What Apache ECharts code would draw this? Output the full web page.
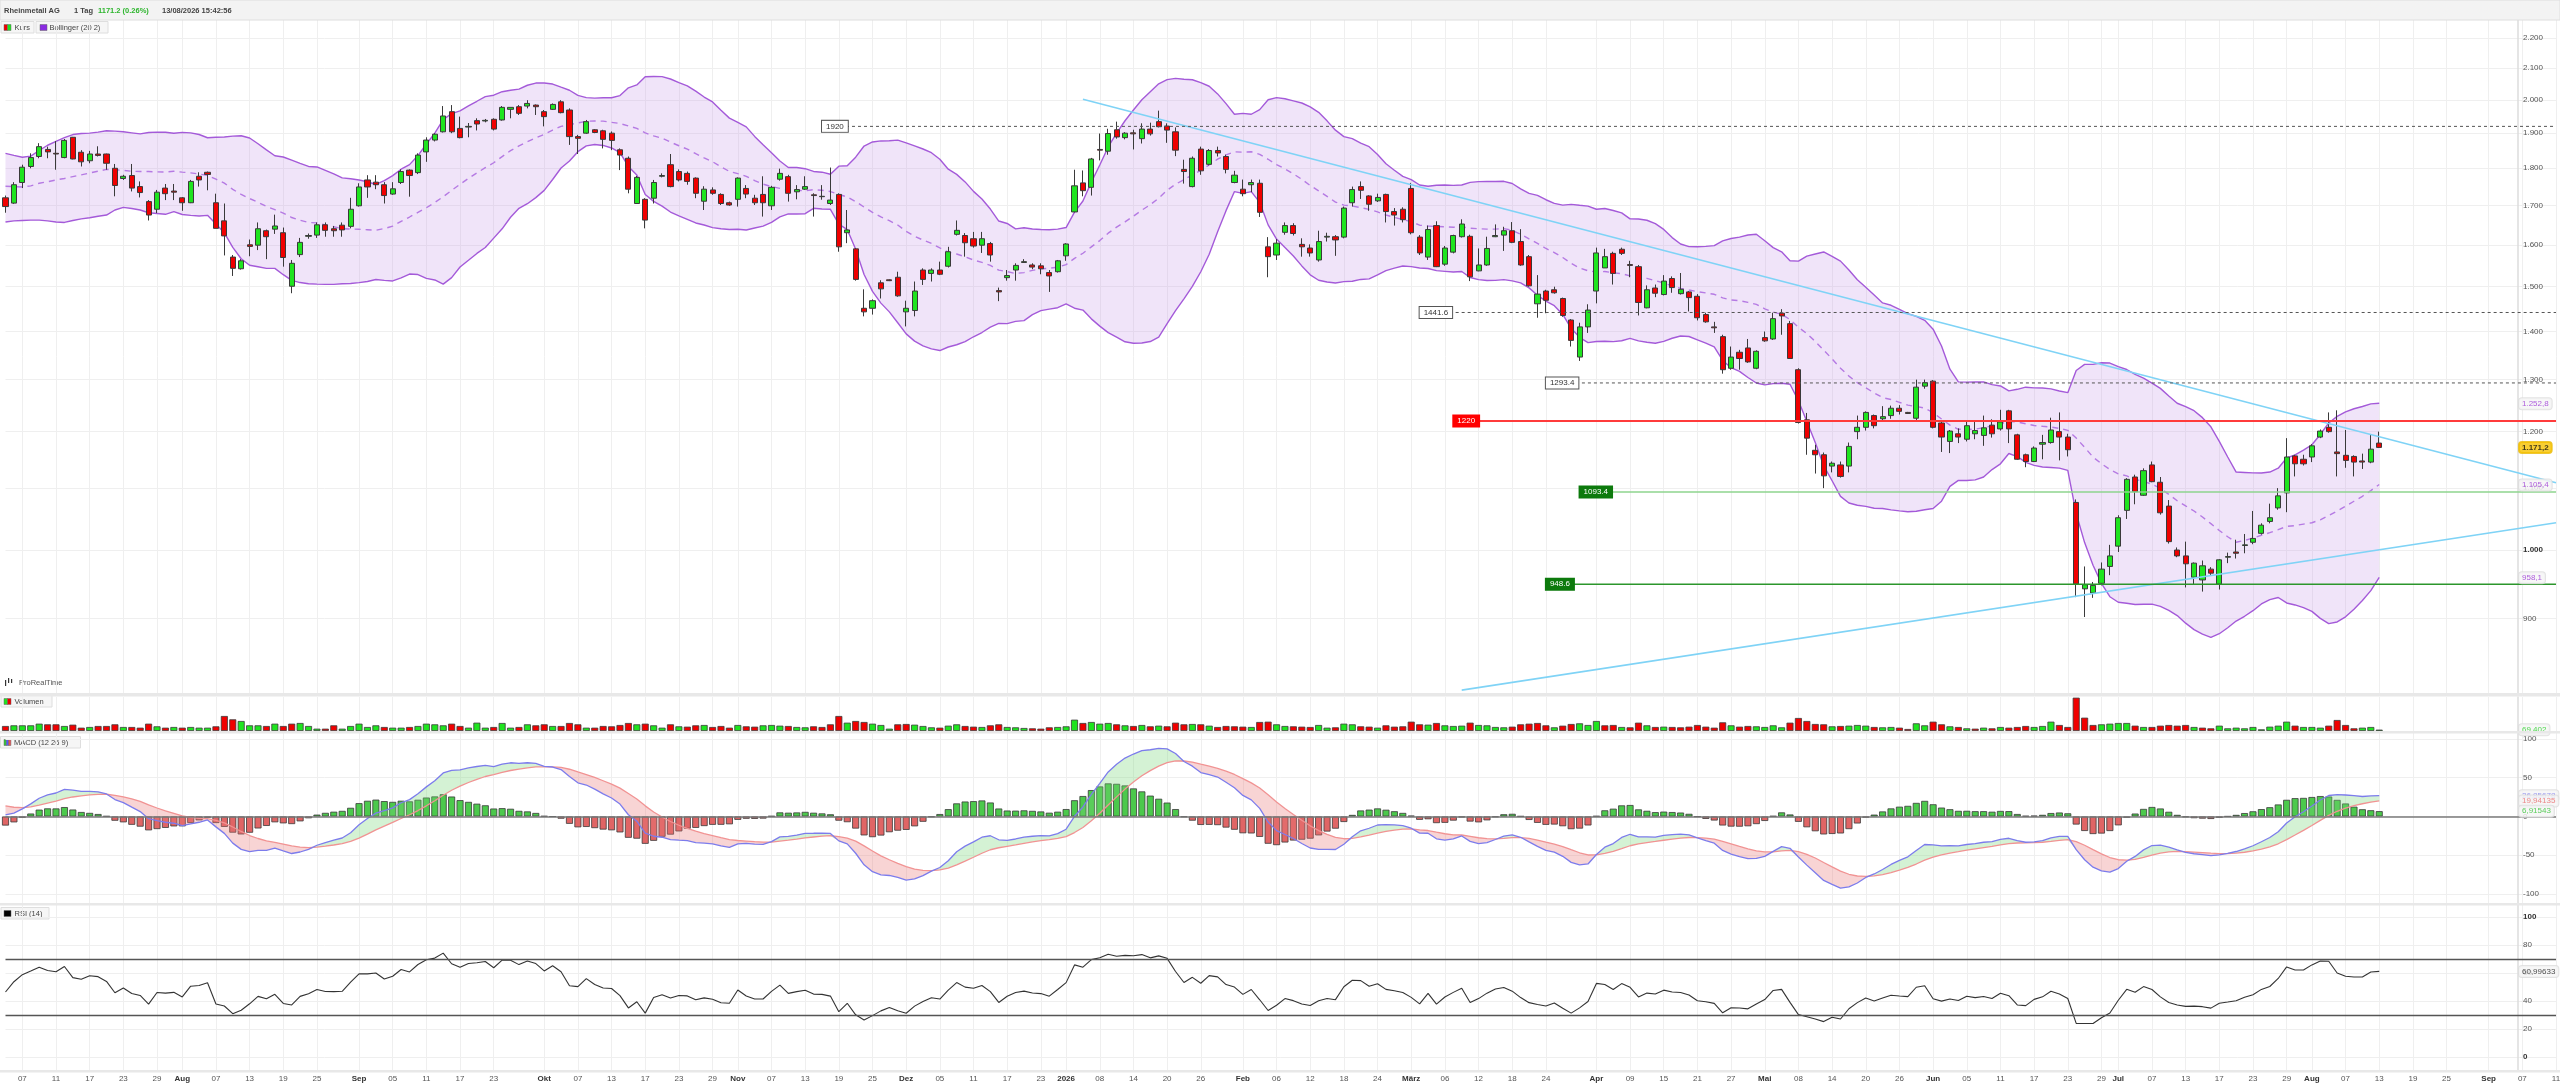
<!DOCTYPE html>
<html><head><meta charset="utf-8">
<script src="https://cdn.jsdelivr.net/npm/echarts@6/dist/echarts.min.js"></script>
<style>html,body{margin:0;padding:0;background:#fff}#c{width:2560px;height:1086px}</style>
</head><body><div id="c"></div>
<script>
// ---------- DATA ----------
const holidays = ['2025-12-24','2025-12-25','2025-12-26','2025-12-31','2026-01-01','2026-04-03','2026-04-06','2026-05-01'];
const firstDay = '2025-07-03';
const lastAxisDay = '2026-09-11';

const opens = [1720,1706,1761,1805,1833,1853,1842,1830,1888,1845,
1821,1840,1840,1800,1772,1780,1750,1710,1690,1746,
1738,1720,1707,1778,1789,1707,1660,1570,1542,1600,
1599,1635,1639,1630,1501,1576,1621,1624,1650,1640,
1649,1646,1699,1768,1762,1755,1730,1761,1795,1788,
1846,1880,1904,1964,1914,1918,1937,1936,1941,1939,
1971,1979,1981,1984,1964,1971,1994,1969,1890,1900,
1910,1907,1900,1852,1828,1705,1716,1719,1778,1810,
1791,1786,1773,1711,1741,1729,1707,1716,1745,1719,
1729,1699,1770,1777,1736,1743,1728,1723,1705,1729,
1630,1590,1451,1451,1509,1516,1522,1443,1446,1539,
1531,1539,1548,1626,1623,1615,1599,1603,1491,1521,
1539,1557,1551,1549,1533,1535,1573,1683,1760,1748,
1853,1848,1910,1887,1901,1884,1912,1934,1921,1904,
1797,1750,1854,1811,1850,1833,1761,1743,1755,1759,
1595,1575,1631,1648,1601,1592,1563,1619,1620,1619,
1707,1750,1725,1712,1729,1684,1690,1745,1619,1570,
1648,1553,1582,1620,1621,1537,1551,1620,1624,1635,
1608,1571,1461,1490,1493,1473,1425,1346,1410,1490,
1544,1579,1589,1552,1547,1452,1497,1482,1519,1484,
1488,1478,1437,1410,1389,1323,1356,1365,1323,1387,
1384,1440,1417,1320,1222,1166,1158,1138,1140,1138,
1200,1208,1230,1224,1230,1244,1236,1225,1287,1297,
1216,1182,1196,1186,1196,1193,1212,1205,1239,1194,
1158,1146,1177,1180,1200,1190,1076,942,936,950,
975,1006,1063,1119,1088,1140,1110,1070,1000,991,
959,955,971,949,989,997,1007,1012,1026,1045,
1067,1092,1156,1150,1154,1190,1208,1163,1157,1155,
1147,1145,1179];

const closes = [1697,1755,1803,1830,1861,1846,1840,1879,1826,1818,
1840,1836,1814,1753,1778,1746,1734,1675,1735,1731,
1735,1707,1764,1768,1783,1641,1622,1543,1561,1596,
1640,1620,1647,1569,1555,1606,1623,1650,1636,1635,
1637,1690,1749,1749,1755,1726,1744,1791,1780,1837,
1880,1897,1951,1904,1887,1920,1927,1938,1912,1977,
1977,1959,1989,1979,1949,1986,1961,1890,1885,1934,
1902,1882,1879,1837,1743,1775,1662,1761,1780,1750,
1768,1764,1732,1743,1732,1705,1701,1773,1730,1707,
1707,1748,1786,1732,1742,1750,1726,1724,1714,1595,
1637,1517,1443,1468,1495,1514,1479,1451,1490,1517,
1539,1529,1583,1636,1605,1597,1615,1575,1488,1526,
1550,1559,1546,1542,1525,1561,1602,1752,1739,1826,
1851,1899,1889,1900,1898,1912,1898,1919,1909,1851,
1791,1828,1793,1850,1843,1797,1781,1731,1761,1682,
1571,1604,1648,1628,1595,1580,1608,1621,1612,1693,
1742,1740,1703,1721,1684,1675,1663,1630,1580,1638,
1547,1592,1623,1652,1523,1551,1591,1623,1635,1606,
1551,1502,1483,1469,1486,1435,1381,1410,1447,1580,
1571,1531,1579,1550,1464,1493,1485,1513,1498,1494,
1475,1430,1421,1408,1320,1346,1343,1336,1358,1380,
1428,1434,1343,1217,1188,1158,1121,1143,1120,1173,
1208,1236,1211,1228,1244,1238,1234,1285,1294,1208,
1190,1201,1190,1211,1202,1207,1196,1218,1205,1150,
1146,1170,1180,1203,1190,1167,949,948,947,971,
991,1051,1115,1094,1130,1111,1059,1013,991,979,
980,976,965,985,990,995,1008,1018,1039,1051,
1087,1154,1142,1142,1174,1201,1200,1160,1148,1145,
1145,1168,1171.2];

const highs = [1726,1762,1810,1842,1871,1861,1877,1883,1889,1851,
1849,1862,1841,1812,1782,1812,1764,1714,1741,1757,
1757,1722,1768,1789,1791,1731,1705,1575,1565,1613,
1656,1638,1676,1643,1563,1617,1628,1656,1656,1647,
1656,1720,1759,1781,1781,1762,1762,1797,1797,1842,
1888,1900,1981,1984,1949,1930,1944,1942,1944,1981,
1977,1984,1999,1986,1969,1989,1999,1974,1895,1939,
1912,1910,1905,1856,1833,1779,1719,1768,1786,1840,
1797,1791,1775,1751,1748,1732,1710,1775,1754,1728,
1778,1752,1799,1782,1754,1778,1732,1754,1802,1732,
1688,1592,1494,1471,1515,1517,1535,1468,1512,1543,
1543,1559,1595,1661,1629,1632,1632,1607,1498,1539,
1555,1565,1555,1555,1539,1563,1604,1796,1794,1829,
1899,1913,1934,1903,1910,1929,1931,1967,1929,1917,
1824,1833,1861,1854,1861,1838,1793,1769,1769,1769,
1619,1614,1656,1654,1616,1601,1635,1630,1624,1697,
1750,1764,1727,1731,1731,1693,1695,1760,1624,1648,
1659,1597,1625,1664,1625,1591,1620,1651,1645,1657,
1639,1575,1527,1493,1500,1475,1427,1419,1460,1593,
1590,1583,1593,1561,1551,1503,1505,1527,1524,1532,
1490,1483,1441,1421,1393,1368,1361,1384,1360,1400,
1441,1449,1423,1323,1235,1176,1162,1146,1146,1180,
1230,1238,1232,1248,1249,1250,1237,1300,1300,1299,
1218,1203,1206,1221,1221,1230,1223,1241,1241,1196,
1160,1173,1194,1226,1236,1196,1081,975,952,981,
1008,1055,1117,1123,1134,1146,1119,1080,1004,1013,
981,984,974,986,996,1016,1025,1062,1042,1074,
1100,1188,1158,1158,1177,1204,1236,1240,1203,1157,
1160,1194,1200];

const lows = [1681,1704,1746,1800,1828,1828,1796,1828,1825,1805,
1814,1833,1796,1724,1768,1737,1721,1661,1680,1714,
1714,1686,1706,1750,1740,1641,1574,1525,1540,1572,
1587,1565,1627,1547,1485,1570,1615,1617,1620,1620,
1620,1641,1697,1720,1743,1705,1728,1757,1723,1784,
1818,1876,1902,1900,1885,1888,1908,1932,1908,1937,
1944,1954,1974,1954,1920,1969,1959,1866,1840,1898,
1900,1856,1851,1795,1732,1704,1641,1705,1775,1748,
1764,1755,1719,1688,1728,1701,1699,1697,1719,1701,
1671,1688,1766,1710,1716,1741,1671,1715,1701,1583,
1604,1514,1433,1437,1473,1513,1477,1411,1433,1504,
1512,1527,1545,1623,1571,1593,1580,1559,1467,1514,
1514,1557,1541,1529,1488,1533,1561,1682,1724,1726,
1822,1838,1884,1882,1853,1870,1893,1917,1872,1834,
1758,1748,1782,1808,1833,1786,1759,1724,1735,1670,
1522,1563,1625,1623,1571,1571,1559,1608,1573,1616,
1697,1717,1686,1709,1656,1648,1656,1626,1575,1563,
1546,1549,1579,1618,1513,1536,1549,1619,1585,1604,
1549,1500,1430,1440,1484,1432,1368,1338,1397,1462,
1544,1505,1575,1522,1435,1451,1476,1480,1486,1482,
1444,1424,1419,1397,1312,1320,1320,1334,1321,1378,
1382,1393,1342,1215,1158,1125,1100,1127,1118,1127,
1186,1202,1206,1219,1224,1232,1233,1219,1282,1206,
1163,1161,1179,1182,1186,1174,1189,1202,1179,1149,
1136,1145,1150,1178,1148,1155,930,902,929,947,
962,997,1049,1073,1087,1110,1056,1010,989,944,
948,938,962,941,980,987,995,1009,1024,1042,
1064,1060,1120,1139,1145,1188,1198,1120,1135,1120,
1133,1143,1170];

// volume in thousands of shares
const volumes = [255,289,289,289,374,340,340,255,323,170,
204,255,255,340,204,204,170,374,238,170,
204,170,204,170,170,238,765,595,510,289,
289,255,374,255,374,408,255,119,119,289,
119,255,374,204,289,204,170,170,204,255,
374,340,289,374,255,170,425,170,204,408,
170,204,340,289,340,255,255,408,340,170,
170,255,238,306,408,340,374,289,170,340,
238,221,289,306,204,255,170,306,238,221,
289,306,272,255,204,187,238,204,340,765,
425,510,459,374,306,119,340,357,323,255,
187,170,272,340,255,221,204,289,340,204,
187,153,136,119,187,204,238,578,408,459,
374,408,340,289,255,306,238,272,238,425,
340,357,340,272,204,255,238,221,204,459,
476,340,255,238,221,204,306,170,187,374,
340,238,221,170,289,221,238,476,340,323,
408,289,255,272,425,306,289,204,187,221,
340,374,408,289,187,272,357,391,306,510,
289,306,204,187,425,289,204,221,204,187,
221,306,221,170,442,289,221,255,238,204,
289,187,425,663,510,357,340,238,255,272,
306,272,204,187,204,170,102,391,289,476,
340,238,204,136,119,170,136,204,170,204,
255,204,255,476,306,204,1700,680,306,340,
374,408,408,272,204,204,272,306,272,306,
204,170,136,272,136,170,136,204,85,221,
272,476,272,204,204,170,272,561,306,136,
170,204,69.402];

// Bollinger (20 2) values read for the first 19 sessions (before a full window exists)
const bbUpperHead = [1842,1836,1831,1834,1850,1865,1876,1887,1896,1899,1900,1903,1907,1906,1904,1901,1898,1902,1903];
const bbMidHead   = [1751,1750,1749,1752,1759,1763,1768,1772,1777,1782,1787,1792,1797,1796,1794,1792,1791,1791,1790];
const bbLowerHead = [1657,1660,1661,1662,1662,1660,1657,1656,1661,1665,1668,1672,1675,1688,1695,1692,1688,1681,1679];

// indicator state at the first visible session
const macdStart = {ema12: 1725, ema26: 1722.9, signal: 13.8};
const rsiStart = {avgGain: 13, avgLoss: 15};

// horizontal levels and trend lines
const levelValues = [1920, 1441.6, 1293.4, 1220, 1093.4, 948.6];
const levelLabels = ['1920', '1441.6', '1293.4', '1220', '1093.4', '948.6'];
const levelStartDates = ['2025-11-17', '2026-03-03', '2026-03-24', '2026-03-09', '2026-03-30', '2026-03-24'];
const downTrendDates = ['2026-01-06', '2026-09-11'];
const downTrendPrices = [2001.6, 1109];
const upTrendDates = ['2026-03-10', '2026-09-11'];
const upTrendPrices = [806, 1043];

// last-value tags
const priceTagValues = [1252.8, 1171.2, 1105.4, 958.1];
const priceTagTexts = ['1.252,8', '1.171,2', '1.105,4', '958,1'];
const volumeTagText = '69.402';
const macdTagValues = [26.85678, 19.94135, 6.91543];
const macdTagTexts = ['26,85678', '19,94135', '6,91543'];
const rsiTagValue = 60.99633;
const rsiTagText = '60,99633';

// axis ticks
const priceTicks = [900,1000,1100,1200,1300,1400,1500,1600,1700,1800,1900,2000,2100,2200];
const macdTicks = [-100,-50,0,50,100];
const rsiTicks = [0,20,40,60,80,100];
const rsiBands = [70, 30];
const xTickDates = ['2025-07-07','2025-07-11','2025-07-17','2025-07-23','2025-07-29','2025-08-01','2025-08-07','2025-08-13','2025-08-19','2025-08-25','2025-09-01','2025-09-05','2025-09-11','2025-09-17','2025-09-23','2025-10-01','2025-10-07','2025-10-13','2025-10-17','2025-10-23','2025-10-29','2025-11-03','2025-11-07','2025-11-13','2025-11-19','2025-11-25','2025-12-01','2025-12-05','2025-12-11','2025-12-17','2025-12-23','2026-01-02','2026-01-08','2026-01-14','2026-01-20','2026-01-26','2026-02-02','2026-02-06','2026-02-12','2026-02-18','2026-02-24','2026-03-02','2026-03-06','2026-03-12','2026-03-18','2026-03-24','2026-04-01','2026-04-09','2026-04-15','2026-04-21','2026-04-27','2026-05-04','2026-05-08','2026-05-14','2026-05-20','2026-05-26','2026-06-01','2026-06-05','2026-06-11','2026-06-17','2026-06-23','2026-06-29','2026-07-01','2026-07-07','2026-07-13','2026-07-17','2026-07-23','2026-07-29','2026-08-03','2026-08-07','2026-08-13','2026-08-19','2026-08-25','2026-09-01','2026-09-07','2026-09-11'];
const xTickTexts = ['07','11','17','23','29','Aug','07','13','19','25','Sep','05','11','17','23','Okt','07','13','17','23','29','Nov','07','13','19','25','Dez','05','11','17','23','2026','08','14','20','26','Feb','06','12','18','24','März','06','12','18','24','Apr','09','15','21','27','Mai','08','14','20','26','Jun','05','11','17','23','29','Jul','07','13','17','23','29','Aug','07','13','19','25','Sep','07','11'];

// ---------- BUILD ----------
const FONT = 'Liberation Sans, Arial, Helvetica, sans-serif';
function buildDays() {
  const out = [], hs = new Set(holidays);
  let t = Date.parse(firstDay + 'T00:00:00Z');
  const end = Date.parse(lastAxisDay + 'T00:00:00Z');
  while (t <= end) {
    const d = new Date(t), wd = d.getUTCDay(), s = d.toISOString().slice(0, 10);
    if (wd !== 0 && wd !== 6 && !hs.has(s)) out.push(s);
    t += 86400000;
  }
  return out;
}
const days = buildDays();
const lastDay = days[days.length - 1];
const N = closes.length;
const L = Math.log;

// Bollinger
const bbU = [], bbM = [], bbLo = [];
for (let i = 0; i < N; i++) {
  if (i < bbMidHead.length) { bbU.push(bbUpperHead[i]); bbM.push(bbMidHead[i]); bbLo.push(bbLowerHead[i]); continue; }
  const w = closes.slice(i - 19, i + 1);
  const m = w.reduce((a, b) => a + b, 0) / 20;
  const sd = Math.sqrt(w.reduce((a, b) => a + (b - m) * (b - m), 0) / 20);
  bbU.push(m + 2 * sd); bbM.push(m); bbLo.push(m - 2 * sd);
}
// MACD
const macd = [], sig = [], hist = [];
{
  let e12 = macdStart.ema12, e26 = macdStart.ema26, s = macdStart.signal;
  macd.push(e12 - e26); sig.push(s); hist.push(e12 - e26 - s);
  for (let i = 1; i < N; i++) {
    e12 += (closes[i] - e12) * 2 / 13;
    e26 += (closes[i] - e26) * 2 / 27;
    const m = e12 - e26;
    s += (m - s) * 2 / 10;
    macd.push(m); sig.push(s); hist.push(m - s);
  }
}
// RSI
const rsi = [];
{
  let ag = rsiStart.avgGain, al = rsiStart.avgLoss;
  rsi.push(100 - 100 / (1 + ag / al));
  for (let i = 1; i < N; i++) {
    const d = closes[i] - closes[i - 1];
    ag = (ag * 13 + Math.max(d, 0)) / 14;
    al = (al * 13 + Math.max(-d, 0)) / 14;
    rsi.push(100 - 100 / (1 + ag / al));
  }
}

const tickMap = {};
xTickDates.forEach((d, i) => tickMap[d] = xTickTexts[i]);
const isTick = (i, v) => tickMap[v] !== undefined;

function fmtPrice(p) {
  p = Math.round(p);
  if (p >= 1000) return Math.floor(p / 1000) + '.' + String(p % 1000).padStart(3, '0');
  return String(p);
}

const GREEN = '#1fe41f', RED = '#f00000', EDGE = '#3a3a3a';

// grids
const grids = [
  {left: 5.5, right: 4, top: 20, height: 673},
  {left: 5.5, right: 4, top: 697, height: 34},
  {left: 5.5, right: 4, top: 733, height: 170},
  {left: 5.5, right: 4, top: 905, height: 165}
].map(g => Object.assign(g, {containLabel: false, outerBoundsMode: 'none'}));

function xAxisFor(idx, showLabels) {
  return {
    type: 'category', gridIndex: idx, data: days, boundaryGap: false,
    axisLine: {show: false}, axisTick: {show: false},
    axisLabel: {
      show: showLabels, interval: isTick, margin: 5, fontSize: 8, color: '#555', fontFamily: FONT,
      formatter: v => { const t = tickMap[v]; if (t === undefined) return ''; return /^\d\d$/.test(t) ? t : '{m|' + t + '}'; },
      rich: {m: {fontWeight: 'bold', fontSize: 8, color: '#333', fontFamily: FONT}}
    },
    splitLine: {show: true, interval: isTick, lineStyle: {color: '#efefef', width: 1}}
  };
}

const yBase = {
  position: 'right', offset: -38, scale: false,
  axisLine: {show: true, lineStyle: {color: '#dcdcdc', width: 1.5}},
  axisTick: {show: false},
  splitLine: {show: true, lineStyle: {color: '#efefef', width: 1}}
};
const lab = {margin: 5, fontSize: 8, color: '#555', fontFamily: FONT};

const yAxes = [
  Object.assign({}, yBase, {
    type: 'value', gridIndex: 0, min: L(802.4), max: L(2261.7),
    axisTick: {show: false, customValues: priceTicks.map(L)},
    axisLabel: Object.assign({}, lab, {
      customValues: priceTicks.map(L),
      formatter: v => { const p = Math.round(Math.exp(v)); const s = fmtPrice(p); return p === 1000 ? '{b|' + s + '}' : s; },
      rich: {b: {fontWeight: 'bold', fontSize: 8, color: '#333', fontFamily: FONT}}
    })
  }),
  Object.assign({}, yBase, {
    type: 'value', gridIndex: 1, min: 0, max: 1734,
    axisLabel: {show: false}, splitLine: {show: false}
  }),
  Object.assign({}, yBase, {
    type: 'value', gridIndex: 2, min: -111.6, max: 107.7,
    axisTick: {show: false, customValues: macdTicks},
    axisLabel: Object.assign({}, lab, {customValues: macdTicks, formatter: v => String(v)})
  }),
  Object.assign({}, yBase, {
    type: 'value', gridIndex: 3, min: -9.3, max: 108.6,
    axisTick: {show: false, customValues: rsiTicks},
    axisLabel: Object.assign({}, lab, {
      customValues: rsiTicks,
      formatter: v => (v === 100 || v === 0) ? '{b|' + v + '}' : String(v),
      rich: {b: {fontWeight: 'bold', fontSize: 8, color: '#333', fontFamily: FONT}}
    })
  })
];

const series = [];
const none = {symbol: 'none', silent: true};

// Bollinger fill
series.push(Object.assign({type: 'line', xAxisIndex: 0, yAxisIndex: 0, stack: 'bb', stackStrategy: 'all',
  data: bbLo.map(L), lineStyle: {opacity: 0}, z: 1}, none));
series.push(Object.assign({type: 'line', xAxisIndex: 0, yAxisIndex: 0, stack: 'bb', stackStrategy: 'all',
  data: bbU.map((u, i) => L(u) - L(bbLo[i])), lineStyle: {opacity: 0},
  areaStyle: {color: 'rgba(196,150,232,0.26)', opacity: 1}, z: 1}, none));
series.push(Object.assign({type: 'line', xAxisIndex: 0, yAxisIndex: 0, data: bbU.map(L),
  lineStyle: {color: '#a45ad9', width: 1.4}, z: 2}, none));
series.push(Object.assign({type: 'line', xAxisIndex: 0, yAxisIndex: 0, data: bbLo.map(L),
  lineStyle: {color: '#a45ad9', width: 1.4}, z: 2}, none));
series.push(Object.assign({type: 'line', xAxisIndex: 0, yAxisIndex: 0, data: bbM.map(L),
  lineStyle: {color: '#b57ae3', width: 1.4, type: [6, 5]}, z: 2}, none));

// candles
series.push({
  type: 'candlestick', xAxisIndex: 0, yAxisIndex: 0, barWidth: 5.6, silent: true, z: 3,
  data: closes.map((c, i) => [L(opens[i]), L(c), L(lows[i]), L(highs[i])]),
  itemStyle: {color: GREEN, color0: RED, borderColor: EDGE, borderColor0: EDGE, borderWidth: 1}
});

// level lines
const levelStyles = [
  {line: {color: '#555', width: 1, type: [3, 3]}, bg: '#fff', fg: '#333', border: '#555'},
  {line: {color: '#555', width: 1, type: [3, 3]}, bg: '#fff', fg: '#333', border: '#555'},
  {line: {color: '#555', width: 1, type: [3, 3]}, bg: '#fff', fg: '#333', border: '#555'},
  {line: {color: '#ff3b3b', width: 2, type: 'solid'}, bg: '#ff0000', fg: '#fff', border: '#ff0000'},
  {line: {color: '#8ed58e', width: 1.5, type: 'solid'}, bg: '#0d7a0d', fg: '#fff', border: '#0d7a0d'},
  {line: {color: '#2c962c', width: 1.6, type: 'solid'}, bg: '#0d7a0d', fg: '#fff', border: '#0d7a0d'}
];
levelValues.forEach((v, k) => {
  const st = levelStyles[k];
  series.push({
    type: 'line', xAxisIndex: 0, yAxisIndex: 0, silent: true, z: 6,
    symbol: 'circle', symbolSize: 0, showSymbol: true,
    lineStyle: st.line,
    data: [
      {value: [levelStartDates[k], L(v)], label: {show: true, position: 'right', distance: 0,
        formatter: levelLabels[k], fontSize: 8, fontFamily: FONT, color: st.fg,
        backgroundColor: st.bg, borderColor: st.border, borderWidth: 1, padding: [2, 4, 1, 4]}},
      [lastDay, L(v)]
    ]
  });
});

// trend lines
[[downTrendDates, downTrendPrices], [upTrendDates, upTrendPrices]].forEach(([ds, ps]) => {
  series.push(Object.assign({type: 'line', xAxisIndex: 0, yAxisIndex: 0, z: 5,
    lineStyle: {color: '#7fd3f6', width: 1.6},
    data: ds.map((d, i) => [d, L(ps[i])])}, none));
});

// tag helper
function tags(gridIdx, vals, texts, styles, transform) {
  series.push({
    type: 'scatter', xAxisIndex: gridIdx, yAxisIndex: gridIdx, symbolSize: 0, silent: true, z: 10,
    data: vals.map((v, i) => ({
      value: [lastDay, transform ? transform(v) : v],
      label: Object.assign({show: true, position: [-37, 0], align: 'left', verticalAlign: 'middle',
        formatter: texts[i], fontSize: 8, fontFamily: FONT, padding: [2, 3, 1, 3],
        borderRadius: 3, borderWidth: 1}, styles[i])
    }))
  });
}
const purpleTag = {color: '#9b34d6', backgroundColor: '#f5f5f5', borderColor: '#dcdcdc'};
tags(0, priceTagValues, priceTagTexts,
  [purpleTag, {color: '#111', fontWeight: 'bold', backgroundColor: '#f6c200', borderColor: '#e8b800'}, purpleTag, purpleTag], L);

// volume
series.push({
  type: 'bar', xAxisIndex: 1, yAxisIndex: 1, barWidth: 7, silent: true,
  data: volumes.map((v, i) => ({value: v, itemStyle: {
    color: (i === 0 ? closes[i] >= opens[i] : closes[i] >= closes[i - 1]) ? GREEN : RED,
    borderColor: EDGE, borderWidth: 0.8}}))
});
tags(1, [volumes[N - 1]], [volumeTagText], [{color: '#22d022', backgroundColor: '#f5f5f5', borderColor: '#dcdcdc'}]);

// MACD histogram
series.push({
  type: 'bar', xAxisIndex: 2, yAxisIndex: 2, barWidth: 7, silent: true, z: 2,
  data: hist.map(h => ({value: h, itemStyle: {color: h >= 0 ? '#4cc94c' : '#e06565', borderColor: EDGE, borderWidth: 0.8}})),
  markLine: {symbol: 'none', silent: true, label: {show: false}, animation: false,
    data: [{yAxis: 0}], lineStyle: {color: '#7a7a7a', width: 1.6, type: 'solid'}}
});
// MACD cloud
const lowLine = macd.map((m, i) => Math.min(m, sig[i]));
series.push(Object.assign({type: 'line', xAxisIndex: 2, yAxisIndex: 2, stack: 'cg', stackStrategy: 'all', data: lowLine, lineStyle: {opacity: 0}, z: 3}, none));
series.push(Object.assign({type: 'line', xAxisIndex: 2, yAxisIndex: 2, stack: 'cg', stackStrategy: 'all',
  data: macd.map((m, i) => Math.max(m - sig[i], 0)), lineStyle: {opacity: 0}, areaStyle: {color: 'rgba(120,215,120,0.32)', opacity: 1}, z: 3}, none));
series.push(Object.assign({type: 'line', xAxisIndex: 2, yAxisIndex: 2, stack: 'cr', stackStrategy: 'all', data: lowLine, lineStyle: {opacity: 0}, z: 3}, none));
series.push(Object.assign({type: 'line', xAxisIndex: 2, yAxisIndex: 2, stack: 'cr', stackStrategy: 'all',
  data: macd.map((m, i) => Math.max(sig[i] - m, 0)), lineStyle: {opacity: 0}, areaStyle: {color: 'rgba(232,120,120,0.32)', opacity: 1}, z: 3}, none));
series.push(Object.assign({type: 'line', xAxisIndex: 2, yAxisIndex: 2, data: sig, lineStyle: {color: '#f19393', width: 1.3}, z: 4}, none));
series.push(Object.assign({type: 'line', xAxisIndex: 2, yAxisIndex: 2, data: macd, lineStyle: {color: '#7c7cec', width: 1.3}, z: 4}, none));
tags(2, macdTagValues, macdTagTexts, [
  {color: '#7c7cec', backgroundColor: '#f5f5f5', borderColor: '#dcdcdc'},
  {color: '#e86a6a', backgroundColor: '#f5f5f5', borderColor: '#dcdcdc'},
  {color: '#33c233', backgroundColor: '#f5f5f5', borderColor: '#dcdcdc'}]);

// RSI
series.push(Object.assign({type: 'line', xAxisIndex: 3, yAxisIndex: 3, data: rsi, lineStyle: {color: '#333', width: 1.1}, z: 4,
  markLine: {symbol: 'none', silent: true, label: {show: false}, animation: false,
    data: rsiBands.map(v => ({yAxis: v})), lineStyle: {color: '#555', width: 1.4, type: 'solid'}}}, none));
tags(3, [rsiTagValue], [rsiTagText], [{color: '#222', backgroundColor: '#f5f5f5', borderColor: '#dcdcdc'}]);

// ---------- GRAPHICS (frame, header, legends) ----------
function legendBox(x, y, w, icons, text) {
  const ch = [{type: 'rect', shape: {x: x, y: y, width: w, height: 11.5}, style: {fill: '#f6f6f6', stroke: '#dedede', lineWidth: 1}}];
  icons.forEach(ic => ch.push({type: 'rect', shape: ic.shape, style: {fill: ic.fill, stroke: '#666', lineWidth: 0.5}}));
  ch.push({type: 'text', x: x + 13.5, y: y + 6, style: {text: text, fill: '#444', font: '7.5px ' + FONT, verticalAlign: 'middle', textVerticalAlign: 'middle'}});
  return {type: 'group', silent: true, z: 50, children: ch};
}
const sepRects = [[693, 3.5], [731, 2.5], [903, 2.5], [1070, 2.5]].map(([y, h]) => ({
  type: 'rect', silent: true, z: 40, shape: {x: 0, y: y, width: 2560, height: h}, style: {fill: '#e8e8e8'}}));

const graphic = [
  {type: 'rect', silent: true, z: 40, shape: {x: 0, y: 0, width: 2560, height: 20}, style: {fill: '#f3f3f3', stroke: '#dedede', lineWidth: 1}},
  {type: 'text', silent: true, z: 41, x: 4, y: 10.5, style: {text: 'Rheinmetall AG', fill: '#444', font: 'bold 7.5px ' + FONT, verticalAlign: 'middle', textVerticalAlign: 'middle'}},
  {type: 'text', silent: true, z: 41, x: 74, y: 10.5, style: {text: '1 Tag', fill: '#444', font: 'bold 7.5px ' + FONT, verticalAlign: 'middle', textVerticalAlign: 'middle'}},
  {type: 'text', silent: true, z: 41, x: 98, y: 10.5, style: {text: '1171.2 (0.26%)', fill: '#2db52d', font: 'bold 7.5px ' + FONT, verticalAlign: 'middle', textVerticalAlign: 'middle'}},
  {type: 'text', silent: true, z: 41, x: 162, y: 10.5, style: {text: '13/08/2026 15:42:56', fill: '#444', font: 'bold 7.5px ' + FONT, verticalAlign: 'middle', textVerticalAlign: 'middle'}},
  legendBox(1, 21.5, 33, [{shape: {x: 4, y: 24.5, width: 3.5, height: 6}, fill: RED}, {shape: {x: 7.5, y: 24.5, width: 3.5, height: 6}, fill: GREEN}], 'Kurs'),
  legendBox(36, 21.5, 72, [{shape: {x: 40, y: 24.5, width: 7, height: 6}, fill: '#8a2be2'}], 'Bollinger (20 2)'),
  legendBox(1, 695.5, 51, [{shape: {x: 4, y: 698.5, width: 3.5, height: 6}, fill: GREEN}, {shape: {x: 7.5, y: 698.5, width: 3.5, height: 6}, fill: RED}], 'Volumen'),
  legendBox(0.5, 736.5, 80, [{shape: {x: 4, y: 739.5, width: 2.3, height: 6}, fill: '#3c3'}, {shape: {x: 6.3, y: 739.5, width: 2.3, height: 6}, fill: '#55f'}, {shape: {x: 8.6, y: 739.5, width: 2.3, height: 6}, fill: '#e55'}], 'MACD (12 26 9)'),
  legendBox(1, 907.5, 48, [{shape: {x: 4, y: 910.5, width: 7, height: 6}, fill: '#000'}], 'RSI (14)'),
  {type: 'group', silent: true, z: 50, children: [
    {type: 'rect', shape: {x: 5, y: 680, width: 1.2, height: 6}, style: {fill: '#333'}},
    {type: 'rect', shape: {x: 8, y: 678, width: 1.2, height: 5}, style: {fill: '#333'}},
    {type: 'rect', shape: {x: 11, y: 679, width: 1.2, height: 4}, style: {fill: '#333'}},
    {type: 'text', x: 19, y: 683, style: {text: 'ProRealTime', fill: '#555', font: '7.5px ' + FONT, verticalAlign: 'middle', textVerticalAlign: 'middle'}}
  ]}
].concat(sepRects);

const chart = echarts.init(document.getElementById('c'), null, {renderer: 'canvas', width: 2560, height: 1086});
chart.setOption({
  animation: false,
  backgroundColor: '#ffffff',
  textStyle: {fontFamily: FONT},
  grid: grids,
  xAxis: [xAxisFor(0, false), xAxisFor(1, false), xAxisFor(2, false), xAxisFor(3, true)],
  yAxis: yAxes,
  series: series,
  graphic: graphic
});
</script>
</body></html>
